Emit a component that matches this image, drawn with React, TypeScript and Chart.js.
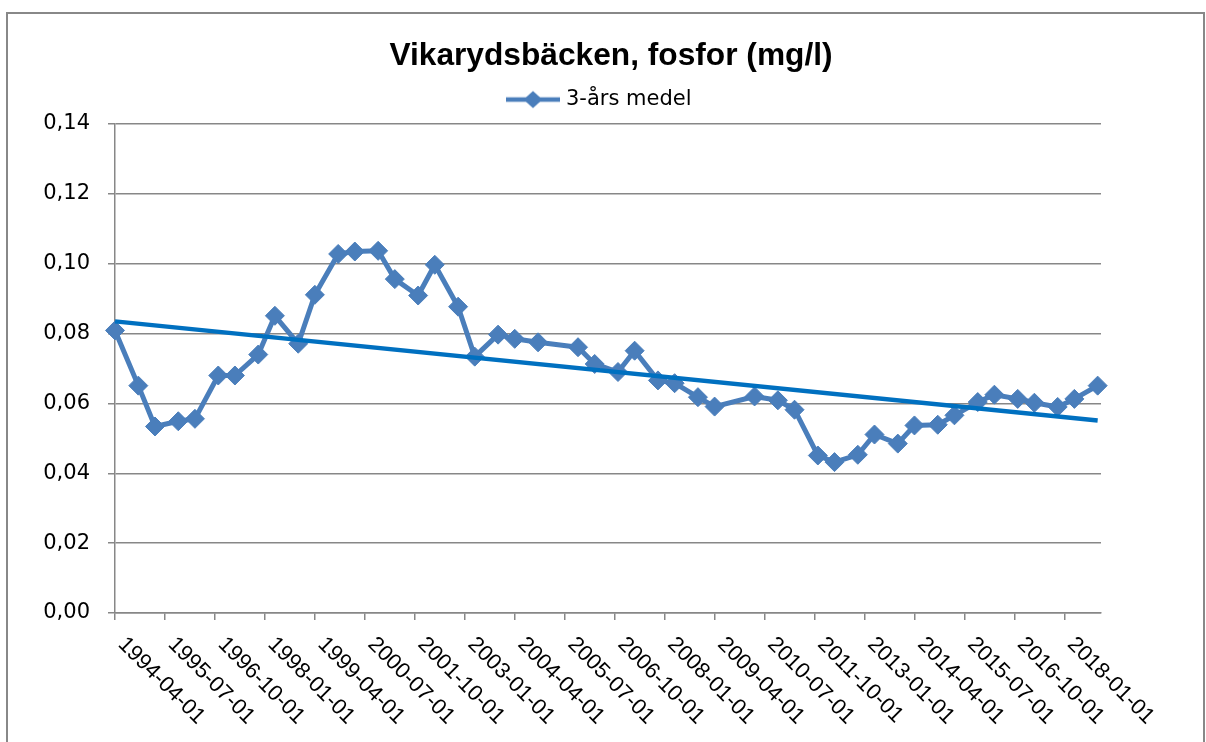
import React, { useEffect, useRef } from 'react';
import { Chart, registerables } from 'chart.js';

Chart.register(...registerables);

// ---- data ----
const chartTitle = 'Vikarydsbäcken, fosfor (mg/l)';
const seriesLabel = '3-års medel';
const trendLabel = 'Linjär (3-års medel)';

const seriesDates = [
  '1994-04-01', '1994-11-01', '1995-04-01', '1995-11-01', '1996-04-01', '1996-11-01',
  '1997-04-01', '1997-11-01', '1998-04-01', '1998-11-01', '1999-04-01', '1999-11-01',
  '2000-04-01', '2000-11-01', '2001-04-01', '2001-11-01', '2002-04-01', '2002-11-01',
  '2003-04-01', '2003-11-01', '2004-04-01', '2004-11-01', '2005-11-01', '2006-04-01',
  '2006-11-01', '2007-04-01', '2007-11-01', '2008-04-01', '2008-11-01', '2009-04-01',
  '2010-04-01', '2010-11-01', '2011-04-01', '2011-11-01', '2012-04-01', '2012-11-01',
  '2013-04-01', '2013-11-01', '2014-04-01', '2014-11-01', '2015-04-01', '2015-11-01',
  '2016-04-01', '2016-11-01', '2017-04-01', '2017-11-01', '2018-04-01', '2018-11-01',
];
const seriesValues = [
  0.0809, 0.0651, 0.0534, 0.0549, 0.0556, 0.0680,
  0.0680, 0.0740, 0.0851, 0.0771, 0.0911, 0.1028,
  0.1035, 0.1037, 0.0956, 0.0909, 0.0997, 0.0877,
  0.0734, 0.0797, 0.0785, 0.0775, 0.0761, 0.0713,
  0.0690, 0.0751, 0.0666, 0.0658, 0.0618, 0.0591,
  0.0620, 0.0609, 0.0582, 0.0451, 0.0432, 0.0453,
  0.0511, 0.0485, 0.0537, 0.0539, 0.0566, 0.0604,
  0.0625, 0.0613, 0.0602, 0.0590, 0.0613, 0.0651,
];

const trendDates = ['1994-04-01', '2018-11-01'];
const trendValues = [0.0835, 0.0551];

const xTickLabels = [
  '1994-04-01', '1995-07-01', '1996-10-01', '1998-01-01', '1999-04-01', '2000-07-01',
  '2001-10-01', '2003-01-01', '2004-04-01', '2005-07-01', '2006-10-01', '2008-01-01',
  '2009-04-01', '2010-07-01', '2011-10-01', '2013-01-01', '2014-04-01', '2015-07-01',
  '2016-10-01', '2018-01-01',
];
const axisStart = '1994-04-01';
const axisEnd = '2018-12-01';
const yMin = 0;
const yMax = 0.14;
const yStep = 0.02;

// ---- styles ----
const SERIES_COLOR = '#4A7EBB';
const TREND_COLOR = '#0070C0';
const GRID_COLOR = '#878787';

function monthIndex(d: string): number {
  const [y, m] = d.split('-').map(Number);
  const [y0, m0] = axisStart.split('-').map(Number);
  return (y - y0) * 12 + (m - m0);
}

export default function App() {
  const ref = useRef<HTMLCanvasElement | null>(null);

  useEffect(() => {
    const canvas = ref.current;
    if (!canvas) return;

    // legend symbol: line with diamond marker (Excel style)
    const legendImg = document.createElement('canvas');
    legendImg.width = 76;
    legendImg.height = 22;
    const lc = legendImg.getContext('2d')!;
    lc.strokeStyle = SERIES_COLOR;
    lc.lineWidth = 4.5;
    lc.beginPath();
    lc.moveTo(1, 11);
    lc.lineTo(55, 11);
    lc.stroke();
    lc.fillStyle = SERIES_COLOR;
    lc.beginPath();
    lc.moveTo(28, 2.5);
    lc.lineTo(37.5, 11);
    lc.lineTo(28, 19.5);
    lc.lineTo(18.5, 11);
    lc.closePath();
    lc.fill();

    const labelMap: Record<number, string> = {};
    xTickLabels.forEach((l) => { labelMap[monthIndex(l)] = l; });

    const xLabelPlugin = {
      id: 'xRotatedLabels',
      afterDraw(chart: any) {
        const xs = chart.scales.x;
        const ctx = chart.ctx;
        ctx.save();
        ctx.font = '22px "Liberation Sans", Arial, sans-serif';
        ctx.fillStyle = '#000';
        ctx.textAlign = 'left';
        ctx.textBaseline = 'middle';
        xs.ticks.forEach((t: any) => {
          const px = xs.getPixelForValue(t.value);
          ctx.save();
          ctx.translate(px + 6.5, xs.top + 28);
          ctx.rotate(Math.PI / 4);
          ctx.fillText(labelMap[t.value] ?? '', 0, 0);
          ctx.restore();
        });
        ctx.restore();
      },
    };

    const chart = new Chart(canvas, {
      type: 'line',
      data: {
        datasets: [
          {
            label: seriesLabel,
            data: seriesDates.map((d, i) => ({ x: monthIndex(d), y: seriesValues[i] })),
            borderColor: SERIES_COLOR,
            backgroundColor: SERIES_COLOR,
            borderWidth: 5,
            borderJoinStyle: 'round',
            borderCapStyle: 'round',
            pointStyle: 'rectRot',
            pointRadius: 9.5,
            pointBorderWidth: 1,
            pointBackgroundColor: SERIES_COLOR,
            pointBorderColor: SERIES_COLOR,
            tension: 0,
            clip: false,
            order: 1,
          },
          {
            label: trendLabel,
            data: trendDates.map((d, i) => ({ x: monthIndex(d), y: trendValues[i] })),
            borderColor: TREND_COLOR,
            backgroundColor: TREND_COLOR,
            borderWidth: 4.5,
            pointRadius: 0,
            tension: 0,
            clip: false,
            order: 0,
          },
        ],
      },
      options: {
        responsive: false,
        animation: false,
        layout: { padding: { left: 16, right: 0, top: 0, bottom: 0 } },
        plugins: {
          title: {
            display: true,
            text: chartTitle,
            color: '#000',
            font: { family: '"Liberation Sans", Arial, sans-serif', size: 31.7, weight: 'bold' },
            padding: { top: 37.5, bottom: 3.5 },
          },
          legend: {
            display: true,
            position: 'top',
            labels: {
              usePointStyle: true,
              pointStyleWidth: 25,
              color: '#000',
              font: { family: '"DejaVu Sans", sans-serif', size: 21 },
              padding: 10,
              generateLabels: () => [
                {
                  text: seriesLabel,
                  pointStyle: legendImg as any,
                  fillStyle: SERIES_COLOR,
                  strokeStyle: SERIES_COLOR,
                  lineWidth: 0,
                  hidden: false,
                  datasetIndex: 0,
                  fontColor: '#000',
                },
              ],
            },
          },
          tooltip: { enabled: false },
        },
        scales: {
          x: {
            type: 'linear',
            min: 0,
            max: monthIndex(axisEnd),
            afterBuildTicks: (scale: any) => {
              scale.ticks = xTickLabels.map((l) => ({ value: monthIndex(l) }));
            },
            afterFit: (scale: any) => {
              scale.height = 129;
            },
            ticks: { display: false },
            grid: {
              drawOnChartArea: false,
              drawTicks: true,
              tickLength: 7,
              color: GRID_COLOR,
              lineWidth: 1.5,
            },
            border: { display: true, color: GRID_COLOR, width: 1.5 },
          },
          xTopSpacer: {
            type: 'linear',
            position: 'top',
            display: true,
            afterFit: (scale: any) => {
              scale.height = 4;
            },
            ticks: { display: false },
            grid: { display: false },
            border: { display: false },
          },
          y: {
            type: 'linear',
            min: yMin,
            max: yMax,
            afterFit: (scale: any) => {
              scale.width = 99;
            },
            ticks: {
              stepSize: yStep,
              padding: 18,
              color: '#000',
              font: { family: '"DejaVu Sans", sans-serif', size: 21 },
              callback: (v: any) => Number(v).toFixed(2).replace('.', ','),
            },
            grid: {
              color: GRID_COLOR,
              lineWidth: 1.5,
              drawTicks: true,
              tickLength: 7,
            },
            border: { display: true, color: GRID_COLOR, width: 1.5 },
          },
          y2: {
            type: 'linear',
            position: 'right',
            display: true,
            afterFit: (scale: any) => {
              scale.width = 105;
            },
            ticks: { display: false },
            grid: { display: false },
            border: { display: false },
          },
        },
      } as any,
      plugins: [xLabelPlugin],
    });

    return () => {
      chart.destroy();
    };
  }, []);

  return (
    <div
      style={{
        position: 'fixed',
        left: 0,
        top: 0,
        width: 1206,
        height: 742,
        background: '#fff',
        overflow: 'hidden',
      }}
    >
      <div
        style={{
          position: 'absolute',
          left: 6,
          top: 12,
          width: 1195,
          height: 760,
          border: '2px solid #888',
        }}
      />
      <canvas
        ref={ref}
        width={1206}
        height={742}
        style={{ position: 'absolute', left: 0, top: 0, width: 1206, height: 742 }}
      />
    </div>
  );
}
